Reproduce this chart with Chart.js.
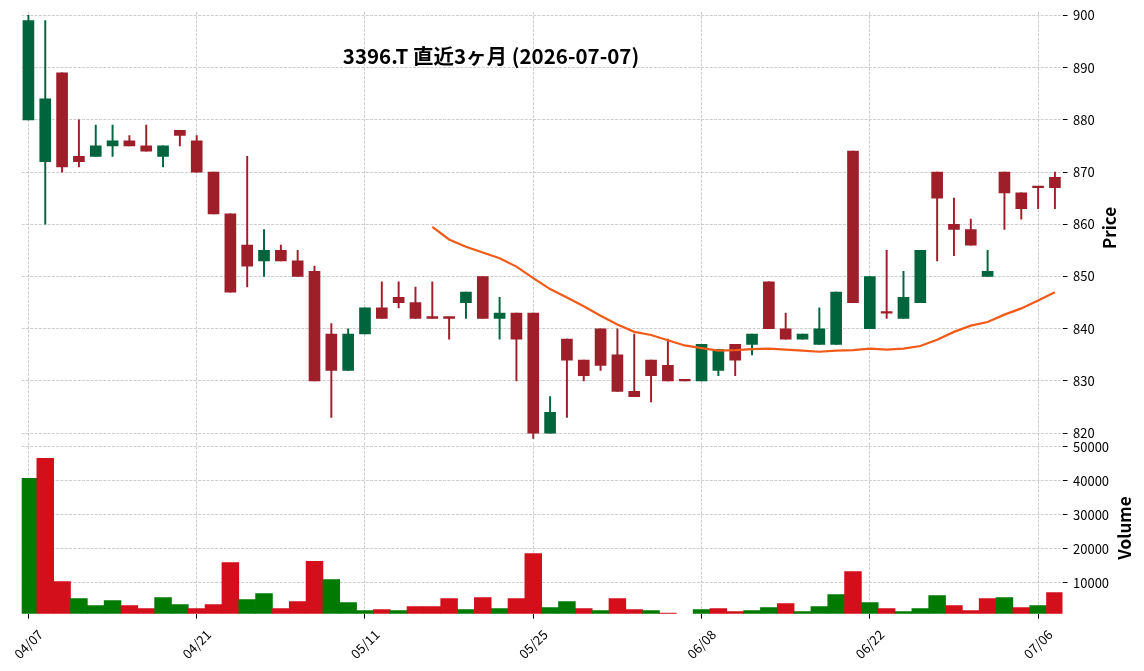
<!DOCTYPE html>
<html>
<head>
<meta charset="utf-8">
<script src="https://cdn.jsdelivr.net/npm/chart.js@4/dist/chart.umd.min.js"></script>
<style>
  body { margin: 0; background: #fff; }
  #wrap { position: relative; width: 1144px; height: 671px; }
  #priceChart { position: absolute; left: 0; top: 0; }
  #volumeChart { position: absolute; left: 0; top: 441px; }
</style>
</head>
<body>
<div id="wrap">
  <canvas id="priceChart" width="1144" height="441"></canvas>
  <canvas id="volumeChart" width="1144" height="230"></canvas>
</div>
<script>
// daily data
const dates = ['04/07','04/08','04/09','04/10','04/13','04/14','04/15','04/16','04/17','04/20',
  '04/21','04/22','04/23','04/24','04/27','04/28','04/30','05/01','05/07','05/08',
  '05/11','05/12','05/13','05/14','05/15','05/18','05/19','05/20','05/21','05/22',
  '05/25','05/26','05/27','05/28','05/29','06/01','06/02','06/03','06/04','06/05',
  '06/08','06/09','06/10','06/11','06/12','06/15','06/16','06/17','06/18','06/19',
  '06/22','06/23','06/24','06/25','06/26','06/29','06/30','07/01','07/02','07/03',
  '07/06','07/07'];

const opens = [880,872,889,873,873,875,876,875,873,878,
  876,870,862,856,853,855,853,851,839,832,
  839,844,846,845,842,842,845,850,842,843,
  843,820,838,834,840,835,828,834,833,830,
  830,832,837,837,849,840,838,837,837,874,
  840,843,842,845,870,860,859,850,870,866,
  867,869];
const highs = [900,899,889,880,879,879,877,879,875,878,
  877,870,862,873,859,856,855,852,841,840,
  844,849,849,848,849,842,847,850,846,843,
  843,827,838,834,840,840,839,834,838,830,
  837,836,837,839,849,843,839,844,847,874,
  850,855,851,855,870,865,861,855,870,866,
  867,870];
const lows = [880,860,870,871,873,873,875,874,871,875,
  870,862,847,848,850,853,850,830,823,832,
  839,842,844,842,842,838,842,842,838,830,
  819,820,823,830,832,828,827,826,830,830,
  830,831,831,835,840,838,838,837,837,845,
  840,842,842,845,853,854,856,850,859,861,
  863,863];
const closes = [899,884,871,872,875,876,875,874,875,877,
  870,862,847,852,855,853,850,830,832,839,
  844,842,845,842,842,842,847,842,843,838,
  820,824,834,831,833,828,827,831,830,830,
  837,836,834,839,840,838,839,840,847,845,
  850,843,846,855,865,859,856,851,866,863,
  867,867];
const volumes = [40700,46600,10400,5400,3300,4800,3300,2450,5700,3600,
  2450,3600,16000,5100,6850,2450,4500,16300,11000,4200,
  1850,2150,1850,3050,3050,5400,2150,5700,2450,5400,
  18600,2750,4500,2450,1850,5400,2150,1850,1150,0,
  2150,2450,1550,1850,2750,3900,1550,3050,6550,13300,
  4200,2450,1550,2450,6300,3350,1850,5400,5700,2750,
  3350,7150];
// 25-day moving average line as drawn
const ma25 = [null,null,null,null,null,null,null,null,null,null,
  null,null,null,null,null,null,null,null,null,null,
  null,null,null,null,859.5,857.1,855.7,854.6,853.5,851.9,
  849.7,847.6,846.0,844.3,842.5,840.8,839.4,838.8,837.8,836.8,
  836.3,835.8,835.9,836.1,836.2,836.0,835.8,835.6,835.8,835.9,
  836.2,836.0,836.2,836.7,837.9,839.4,840.6,841.3,842.7,843.9,
  845.4,847.0];

const xTickLabels = ['04/07','04/21','05/11','05/25','06/08','06/22','07/06'];
const priceTicks = [820,830,840,850,860,870,880,890,900];
const volumeTicks = [10000,20000,30000,40000,50000];

const candleUp = '#00643d';
const candleDown = '#9e1f2a';
const volUp = '#007a00';
const volDown = '#d40f1c';
const gridColor = '#c2c2c2';

Chart.defaults.font.family = '"Noto Sans CJK JP", sans-serif';
Chart.defaults.color = '#000';

// candle colour from open/close, volume colour from previous close
const candleColors = opens.map((o, i) => o < closes[i] ? candleUp : candleDown);
const volumeColors = closes.map((c, i) => {
  if (i === 0) return opens[0] < c ? volUp : volDown;
  return closes[i - 1] < c ? volUp : volDown;
});

// title and rotated axis labels
const textPlugin = {
  id: 'texts',
  afterDraw(chart, args, opts) {
    const ctx = chart.ctx;
    ctx.save();
    ctx.fillStyle = '#000';
    if (opts.title) {
      ctx.font = 'bold 20.5px "Noto Sans CJK JP"';
      ctx.textAlign = 'center';
      ctx.textBaseline = 'middle';
      ctx.fillText(opts.title, opts.titleX, opts.titleY);
    }
    ctx.translate(opts.labelX, opts.labelY);
    ctx.rotate(-Math.PI / 2);
    ctx.font = 'bold 17px "Noto Sans CJK JP"';
    ctx.textAlign = 'center';
    ctx.textBaseline = 'middle';
    ctx.fillText(opts.label, 0, 0);
    ctx.restore();
  }
};

const xTicks = (scale) => {
  scale.ticks = xTickLabels.map(l => ({ value: dates.indexOf(l) }));
};

// keep the plot areas where the reference has them
const noPad = (s) => {
  s.paddingLeft = 0;
  s.paddingRight = 0;
  s.paddingTop = 0;
  s.paddingBottom = 0;
};

const gridOpts = { color: gridColor, lineWidth: 0.8, tickColor: '#000', tickLength: 5, tickWidth: 1, offset: false };
const borderOpts = { display: false, dash: [3, 1.3] };

new Chart(document.getElementById('priceChart'), {
  data: {
    datasets: [
      {
        type: 'line',
        data: ma25.map((v, i) => ({ x: i, y: v })),
        borderColor: '#f25a17',
        borderWidth: 2.2,
        pointRadius: 0,
        order: 0
      },
      {
        type: 'bar',
        data: opens.map((o, i) => ({ x: i, y: [o, closes[i]] })),
        backgroundColor: candleColors,
        barThickness: 11,
        minBarLength: 1.6,
        grouped: false,
        order: 1
      },
      {
        type: 'bar',
        data: lows.map((l, i) => ({ x: i, y: [l, highs[i]] })),
        backgroundColor: candleColors,
        barThickness: 1.3,
        grouped: false,
        order: 2
      }
    ]
  },
  options: {
    responsive: false,
    animation: false,
    layout: { padding: { left: 21.7, top: 11.7, right: 0, bottom: 1 } },
    plugins: {
      legend: { display: false },
      tooltip: { enabled: false },
      texts: { title: '3396.T 直近3ヶ月 (2026-07-07)', titleX: 491, titleY: 56, label: 'Price', labelX: 1110, labelY: 228 }
    },
    scales: {
      x: {
        type: 'linear',
        offset: false,
        min: -0.4,
        max: 61.45,
        afterBuildTicks: xTicks,
        ticks: { display: false },
        grid: { color: gridColor, lineWidth: 0.8, drawTicks: false, offset: false },
        border: borderOpts,
        afterFit: (s) => { s.height = 0; noPad(s); }
      },
      y: {
        position: 'right',
        min: 818.7,
        max: 900.7,
        afterBuildTicks: (s) => { s.ticks = priceTicks.map(v => ({ value: v })); },
        ticks: { padding: 5.5, font: { size: 13 }, callback: v => String(v) },
        grid: gridOpts,
        border: borderOpts,
        afterFit: (s) => { s.width = 81.5; noPad(s); }
      }
    }
  },
  plugins: [textPlugin]
});

new Chart(document.getElementById('volumeChart'), {
  type: 'bar',
  data: {
    datasets: [{
      data: volumes.map((v, i) => ({ x: i, y: v })),
      backgroundColor: volumeColors,
      barPercentage: 1,
      categoryPercentage: 1,
      clip: 0
    }]
  },
  options: {
    responsive: false,
    animation: false,
    layout: { padding: { left: 21.7, top: 1.4, right: 0, bottom: 0 } },
    plugins: {
      legend: { display: false },
      tooltip: { enabled: false },
      texts: { label: 'Volume', labelX: 1125, labelY: 87 }
    },
    scales: {
      x: {
        type: 'linear',
        offset: false,
        min: -0.4,
        max: 61.45,
        afterBuildTicks: xTicks,
        ticks: {
          autoSkip: false,
          minRotation: 45,
          maxRotation: 45,
          labelOffset: 12,
          padding: 8,
          font: { size: 13 },
          callback: v => dates[v]
        },
        grid: gridOpts,
        border: borderOpts,
        afterFit: (s) => { s.height = 57.3; noPad(s); }
      },
      y: {
        position: 'right',
        min: 950,
        max: 51260,
        afterBuildTicks: (s) => { s.ticks = volumeTicks.map(v => ({ value: v })); },
        ticks: { padding: 5.5, font: { size: 13 }, callback: v => String(v) },
        grid: gridOpts,
        border: borderOpts,
        afterFit: (s) => { s.width = 81.5; noPad(s); }
      }
    }
  },
  plugins: [textPlugin]
});
</script>
</body>
</html>
